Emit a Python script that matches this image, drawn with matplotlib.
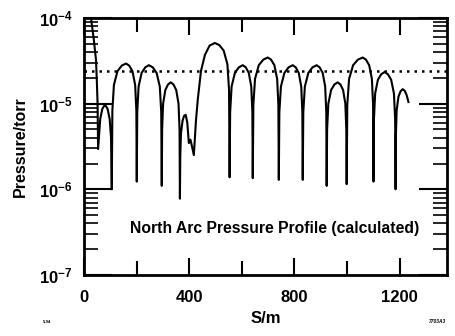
import numpy as np
import matplotlib
matplotlib.use("Agg")
import matplotlib.pyplot as plt
from matplotlib.ticker import FixedLocator, LogLocator, NullFormatter

plt.rcParams['font.family'] = ['Liberation Sans', 'DejaVu Sans']
plt.rcParams['mathtext.fontset'] = 'custom'
plt.rcParams['mathtext.rm'] = 'Liberation Sans'
plt.rcParams['mathtext.bf'] = 'Liberation Sans:bold'

# position along the arc (m) and log10 of pressure (torr)
s = [27, 38, 46, 49, 52, 54,
     58, 62, 70, 80, 90, 98, 103, 106,
     108.2, 114.1, 127.6, 143.8, 160, 172.3, 184.6, 194.85, 199.4, 201,
     202.8, 207.9, 219.4, 233.2, 247, 261.7, 276.4, 288.6, 294.0, 296,
     297.4, 301.1, 309.6, 319.8, 330, 340.5, 351, 359.75, 363.6, 365,
     366.5, 369, 375, 381, 387, 393, 399, 405, 411, 418,
     420, 426, 433, 445, 460, 478, 498, 514.8, 531.6, 545.6, 551.8, 554,
     556, 561.5, 574, 589, 604, 615.4, 626.8, 636.3, 640.5, 642,
     644.3, 650.6, 664.8, 681.9, 699, 711.6, 724.2, 734.7, 739.3, 741,
     743.1, 749, 762.2, 778.1, 794, 805.4, 816.8, 826.3, 830.5, 832,
     834.1, 840, 853.2, 869.1, 885, 896.4, 907.8, 917.3, 921.5, 923,
     924.7, 929.3, 939.8, 952.4, 965, 975.2, 985.4, 993.9, 997.6, 999,
     1001.4, 1008.2, 1023.4, 1041.7, 1060, 1072.3, 1084.6, 1094.9, 1099.4, 1101,
     1102.7, 1107.3, 1117.8, 1130.4, 1143, 1155.6, 1168.2, 1178.7, 1183.3, 1185,
     1186.1, 1189, 1195.8, 1203.9, 1212, 1220, 1227, 1234]
logp = [-4.0, -4.26, -4.49, -4.72, -5.0, -5.53,
        -5.35, -5.18, -5.06, -5.01, -5.06, -5.18, -5.39, -6.0,
        -5.08, -4.78, -4.62, -4.555, -4.53, -4.555, -4.62, -4.78, -5.08, -5.91,
        -5.10, -4.80, -4.64, -4.575, -4.55, -4.575, -4.64, -4.80, -5.10, -5.96,
        -5.30, -5.00, -4.84, -4.775, -4.75, -4.775, -4.84, -5.00, -5.30, -6.11,
        -5.6, -5.35, -5.2, -5.14, -5.13, -5.22, -5.46, -5.42, -5.50, -5.60,
        -5.5, -5.2, -4.95, -4.62, -4.43, -4.32, -4.29, -4.315, -4.38, -4.54, -4.84, -5.86,
        -5.10, -4.80, -4.64, -4.575, -4.55, -4.575, -4.64, -4.80, -5.10, -5.87,
        -5.01, -4.71, -4.55, -4.485, -4.46, -4.485, -4.55, -4.71, -5.01, -5.89,
        -5.10, -4.80, -4.64, -4.575, -4.55, -4.575, -4.64, -4.80, -5.10, -5.89,
        -5.10, -4.80, -4.64, -4.575, -4.55, -4.575, -4.64, -4.80, -5.10, -5.96,
        -5.30, -5.00, -4.84, -4.775, -4.75, -4.775, -4.84, -5.00, -5.30, -5.94,
        -5.01, -4.71, -4.55, -4.485, -4.46, -4.485, -4.55, -4.71, -5.01, -5.91,
        -5.18, -4.88, -4.72, -4.655, -4.63, -4.655, -4.72, -4.88, -5.18, -6.0,
        -5.38, -5.08, -4.92, -4.855, -4.83, -4.85, -4.9, -4.98]
p_ref = 2.43e-5  # dotted level

xticks = [0, 400, 800, 1200]
xtick_labels = ['0', '400', '800', '1200']
yticks = [1e-7, 1e-6, 1e-5, 1e-4]
ytick_labels = [r'$\mathbf{10^{-7}}$', r'$\mathbf{10^{-6}}$', r'$\mathbf{10^{-5}}$', r'$\mathbf{10^{-4}}$']

p = 10 ** np.array(logp)

fig = plt.figure(figsize=(4.56, 3.36), dpi=100)
ax = fig.add_axes([0.184, 0.182, 0.796, 0.764])

ax.plot(s, p, color='black', lw=1.5)
ax.axhline(p_ref, color='black', lw=1.8, ls=(0, (1, 2)))

ax.set_yscale('log')
ax.set_xlim(0, 1380)
ax.set_ylim(1e-7, 1e-4)

ax.set_xticks(xticks)
ax.set_xticklabels(xtick_labels, fontsize=12, fontweight='bold')
ax.xaxis.set_minor_locator(FixedLocator([200, 600, 1000]))
ax.set_yticks(yticks)
ax.set_yticklabels(ytick_labels, fontsize=12)
ax.yaxis.set_minor_locator(LogLocator(base=10, subs=np.arange(2, 10)))
ax.yaxis.set_minor_formatter(NullFormatter())

ax.tick_params(axis='x', which='major', direction='in', length=12, width=1.5, top=True, pad=11)
ax.tick_params(axis='x', which='minor', direction='in', length=10, width=1.5, top=True)
ax.tick_params(axis='y', which='major', direction='in', length=20, width=1.5, right=True, pad=8)
ax.tick_params(axis='y', which='minor', direction='in', length=10, width=1.2, right=True)
for sp in ax.spines.values():
    sp.set_linewidth(2)

ax.set_xlabel('S/m', fontsize=12, fontweight='bold', labelpad=4)
ax.set_ylabel('Pressure/torr', fontsize=11.5, fontweight='bold', labelpad=8)

ax.text(0.127, 0.179, 'North Arc Pressure Profile (calculated)', transform=ax.transAxes,
        fontsize=11.3, fontweight='bold', va='center')

fig.text(0.095, 0.04, '5-94', fontsize=3, fontweight='bold')
fig.text(0.94, 0.04, '7703A3', fontsize=3.5, fontweight='bold', style='italic')

fig.savefig('out.png', dpi=100)
